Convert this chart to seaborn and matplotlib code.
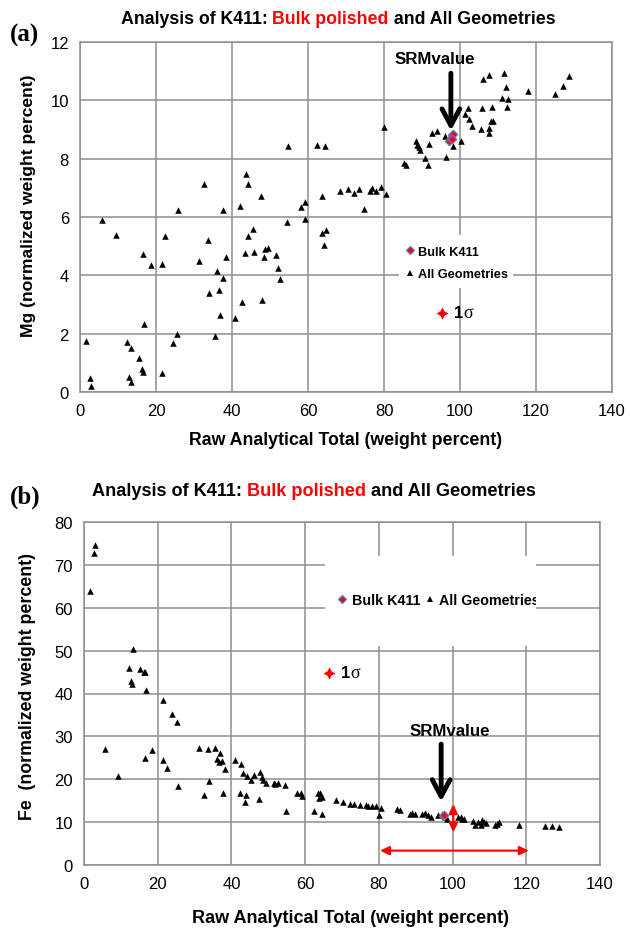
import numpy as np
import pandas as pd
import matplotlib
matplotlib.use("Agg")
import matplotlib.pyplot as plt
import seaborn as sns
from matplotlib.lines import Line2D
from matplotlib.patches import Rectangle
from matplotlib.transforms import Bbox, TransformedBbox

# ---------------- data ----------------
mg_x = [1.5, 2.7, 2.8, 5.7, 9.6, 12.3, 12.8, 13.3, 13.5, 15.5, 16.3, 16.5, 16.6, 16.9, 18.7,
        21.5, 21.7, 22.4, 24.4, 25.4, 25.8, 31.3, 32.7, 33.8, 33.9, 35.6, 36.1, 36.6, 36.9,
        37.6, 37.6, 38.4, 40.9, 42.1, 42.6, 43.3, 43.7, 44.1, 44.2, 45.4, 45.9, 47.5, 48.0,
        48.4, 48.7, 49.5, 51.5, 52.1, 52.7, 54.6, 54.8, 58.1, 59.1, 59.3, 62.3, 63.6, 63.6,
        64.3, 64.5, 64.7, 68.4, 70.4, 72.2, 73.3, 74.8, 76.3, 76.9, 78.0, 79.3, 80.1, 80.5,
        85.3, 85.9, 88.3, 88.8, 89.1, 89.4, 90.8, 91.6, 91.8, 92.5, 94.0, 96.0, 96.4, 98.1,
        100.3, 101.2, 102.0, 102.4, 103.2, 105.4, 105.9, 106.1, 107.6, 107.6, 107.6, 108.2,
        108.8, 108.5, 111.5, 111.1, 112.2, 112.6, 112.4, 118.0, 125.1, 127.0, 128.8]
mg_y = [1.74, 0.48, 0.21, 5.91, 5.37, 1.71, 0.53, 1.52, 0.35, 1.15, 0.78, 0.67, 4.73, 2.32, 4.35,
        0.65, 4.40, 5.36, 1.68, 1.98, 6.24, 4.50, 7.12, 5.22, 3.39, 1.93, 4.15, 3.49, 2.65,
        6.24, 3.91, 4.64, 2.55, 6.38, 3.09, 4.77, 7.46, 7.13, 5.35, 5.58, 4.81, 6.73, 3.17,
        4.64, 4.89, 4.95, 4.70, 4.26, 3.86, 5.82, 8.43, 6.33, 5.94, 6.51, 8.46, 6.72, 5.44,
        5.04, 8.43, 5.57, 6.90, 6.95, 6.81, 6.97, 6.26, 6.88, 6.99, 6.88, 7.03, 9.07, 6.79,
        7.86, 7.79, 8.61, 8.48, 8.40, 8.29, 8.02, 7.77, 8.49, 8.87, 8.95, 8.77, 8.05, 8.45,
        8.61, 9.54, 9.73, 9.37, 9.12, 9.03, 9.73, 10.72, 10.88, 8.89, 9.06, 9.28,
        9.28, 9.77, 10.95, 10.08, 10.45, 10.05, 9.76, 10.31, 10.22, 10.48, 10.83]
bulk_mg_x = [97.2, 97.6, 98.0, 98.2, 97.8]
bulk_mg_y = [8.62, 8.72, 8.80, 8.85, 8.68]

fe_x = [1.6, 2.7, 2.9, 5.6, 9.3, 12.2, 12.7, 13.1, 13.4, 15.3, 16.2, 16.6, 16.5, 16.9, 18.5,
        21.3, 21.5, 22.4, 23.9, 25.3, 25.6, 31.1, 32.6, 33.7, 33.8, 35.5, 36.0, 36.6, 36.8,
        37.5, 37.8, 38.3, 40.9, 42.2, 42.7, 43.1, 43.6, 44.0, 44.2, 45.4, 46.0, 47.4, 47.8,
        48.2, 48.7, 49.4, 51.5, 51.9, 52.5, 54.6, 54.9, 57.9, 59.0, 59.2, 62.3, 63.5, 63.7,
        64.1, 64.6, 64.6, 68.4, 70.3, 72.2, 73.2, 75.0, 76.5, 77.0, 78.2, 79.2, 80.0, 80.5,
        85.0, 85.8, 88.4, 89.1, 89.7, 91.8, 92.6, 93.4, 94.2, 96.1, 97.0, 98.3, 98.5, 101.4,
        102.2, 102.6, 103.1, 105.6, 106.1, 106.8, 107.7, 108.0, 108.6, 109.2, 111.4, 112.1,
        112.6, 118.1, 125.0, 127.0, 128.9]
fe_y = [63.9, 72.7, 74.6, 27.0, 20.7, 45.9, 42.8, 42.1, 50.4, 45.6, 45.1, 45.1, 24.9, 40.9, 26.8,
        38.5, 24.4, 22.7, 35.3, 33.3, 18.4, 27.3, 16.4, 27.0, 19.7, 27.4, 24.7, 24.0, 26.1,
        24.2, 16.8, 22.3, 24.4, 16.7, 23.6, 21.4, 14.7, 16.3, 20.8, 19.8, 20.9, 15.4, 21.8,
        20.6, 19.8, 19.1, 19.2, 18.8, 19.2, 18.7, 12.5, 16.7, 16.7, 16.0, 12.5, 16.9, 15.6,
        16.7, 15.8, 11.9, 15.2, 14.6, 14.2, 14.2, 14.1, 13.9, 13.8, 13.7, 13.7, 11.7, 13.4,
        13.1, 12.8, 11.9, 12.2, 11.9, 11.9, 12.1, 11.7, 11.3, 11.7, 11.9, 11.1, 10.7, 11.3,
        11.3, 10.7, 10.8, 10.3, 9.3, 10.1, 9.4, 10.4, 10.0, 9.9, 9.3, 9.5,
        10.0, 9.3, 9.0, 9.0, 8.9]
bulk_fe_x = [97.3, 97.8]
bulk_fe_y = [11.4, 11.6]

x_ticks = [0, 20, 40, 60, 80, 100, 120, 140]
mg_ticks = [0, 2, 4, 6, 8, 10, 12]
fe_ticks = [0, 10, 20, 30, 40, 50, 60, 70, 80]

sigma_a = (95.3, 2.70)
sigma_b = (66.5, 44.8)
srm_a = 97.6
srm_b = 96.9

title_pieces = [("Analysis of K411: ", "black"), ("Bulk polished", "#ff0000"),
                (" and All Geometries", "black")]
xlabel = "Raw Analytical Total (weight percent)"
ylabel_a = "Mg (normalized weight percent)"
ylabel_b = "Fe  (normalized weight percent)"
legend_labels = ["Bulk K411", "All Geometries"]

# ---------------- style ----------------
sns.set_style("white")
plt.rcParams["font.family"] = ["Liberation Sans", "DejaVu Sans"]
plt.rcParams["text.color"] = "black"
plt.rcParams["axes.labelcolor"] = "black"
GRID = "#8e8e8e"
W, H = 630, 929

fig = plt.figure(figsize=(W / 100, H / 100), dpi=100)


def px_axes(l, r, t, b):
    return fig.add_axes([l / W, 1 - b / H, (r - l) / W, (b - t) / H])


ax1 = px_axes(80, 612, 43, 393)
ax2 = px_axes(84, 600, 523, 866)

df_a = pd.DataFrame({"x": mg_x, "y": mg_y})
df_b = pd.DataFrame({"x": fe_x, "y": fe_y})

for ax, df, bx, by, yt in [(ax1, df_a, bulk_mg_x, bulk_mg_y, mg_ticks),
                           (ax2, df_b, bulk_fe_x, bulk_fe_y, fe_ticks)]:
    sns.scatterplot(data=df, x="x", y="y", marker="^", color="black", s=22,
                    linewidth=0, ax=ax, zorder=3, legend=False)
    sns.scatterplot(x=bx, y=by, marker="D", color="red", edgecolor="#4f81bd",
                    linewidth=0.9, s=18, ax=ax, zorder=4, legend=False)
    ax.set_xlim(x_ticks[0], x_ticks[-1])
    ax.set_ylim(yt[0], yt[-1])
    ax.set_xticks(x_ticks)
    ax.set_yticks(yt)
    ax.set_axisbelow(True)
    ax.grid(True, color=GRID, lw=1.1)
    for sp in ax.spines.values():
        sp.set_visible(True)
        sp.set_color(GRID)
        sp.set_linewidth(1.1)
    ax.tick_params(axis="both", length=3, width=1, color=GRID, pad=5,
                   labelsize=12, labelcolor="black")
    ax.set_xlabel("")
    ax.set_ylabel("")

# axis labels
ax1.set_xlabel(xlabel, fontsize=12.8, fontweight="bold", color="black")
ax1.xaxis.set_label_coords(0.5, -(432 - 393) / 350)
ax1.set_ylabel(ylabel_a, fontsize=12.6, fontweight="bold", color="black")
ax1.yaxis.set_label_coords((36 - 80) / 532, (393 - 206) / 350)

ax2.set_xlabel(xlabel, fontsize=13, fontweight="bold", color="black")
ax2.xaxis.set_label_coords((350 - 84) / 516, -(910 - 866) / 343)
ax2.set_ylabel(ylabel_b, fontsize=12.8, fontweight="bold", color="black")
ax2.yaxis.set_label_coords((36 - 84) / 516, (866 - 687) / 343)

# white legend backgrounds hiding gridlines
rect_a = Rectangle((84, 3.56), 30, 1.82, facecolor="white", edgecolor="none", zorder=1)
ax1.add_patch(rect_a)
rect_b_coords = (65.4, 51.1, 57.2, 21.0)
rect_b = Rectangle(rect_b_coords[:2], rect_b_coords[2], rect_b_coords[3],
                   facecolor="white", edgecolor="none", zorder=1)
ax2.add_patch(rect_b)

# legends
h_bulk = Line2D([], [], marker="D", color="none", markerfacecolor="red",
                markeredgecolor="#4f81bd", markersize=4, markeredgewidth=0.9)
h_all = Line2D([], [], marker="^", color="none", markerfacecolor="black",
               markeredgecolor="black", markersize=4.2, markeredgewidth=0)

leg_a = ax1.legend([h_bulk, h_all], legend_labels, loc="center left",
                   bbox_to_anchor=(405 / W, 1 - 264 / H), bbox_transform=fig.transFigure,
                   frameon=False, borderpad=0, borderaxespad=0, handlelength=0.8,
                   handletextpad=0.25, labelspacing=0.85,
                   prop={"weight": "bold", "size": 9.2})

leg_b = ax2.legend([h_bulk, h_all], legend_labels, loc="center left", ncol=2,
                   bbox_to_anchor=(336.5 / W, 1 - 601 / H), bbox_transform=fig.transFigure,
                   frameon=False, borderpad=0, borderaxespad=0, handlelength=0.8,
                   handletextpad=0.25, columnspacing=0.3,
                   prop={"weight": "bold", "size": 10.3})
for leg in (leg_a, leg_b):
    for t in leg.get_texts():
        t.set_color("black")
clipbox = TransformedBbox(Bbox([[rect_b_coords[0], rect_b_coords[1]],
                                [rect_b_coords[0] + rect_b_coords[2],
                                 rect_b_coords[1] + rect_b_coords[3]]]), ax2.transData)
for t in leg_b.get_texts():
    t.set_clip_box(clipbox)
    t.set_clip_on(True)

# 1 sigma markers
for ax, (sx, sy) in [(ax1, sigma_a), (ax2, sigma_b)]:
    ax.scatter([sx], [sy], marker=(4, 1, 0), s=75, color="#ff0000", linewidth=0, zorder=5)
    ax.annotate("1", xy=(sx, sy), xytext=(8.5, 0.5), textcoords="offset points",
                fontsize=12, fontweight="bold", va="center", ha="left", color="black")
    ax.annotate("σ", xy=(sx, sy), xytext=(15.0, 0.5), textcoords="offset points",
                fontsize=13, family=["Liberation Serif", "DejaVu Serif"],
                va="center", ha="left", color="black")

# SRM value arrows
ax1.text(93.3, 11.42, "SRMvalue", fontsize=12.2, fontweight="bold", ha="center",
         va="center", color="black")
ax1.annotate("", xy=(srm_a, 8.96), xytext=(srm_a, 10.93),
             arrowprops=dict(arrowstyle="->,head_length=0.6,head_width=0.32", lw=3.5,
                             color="black", mutation_scale=20, shrinkA=0, shrinkB=0),
             zorder=6)

ax2.text(99.2, 31.3, "SRMvalue", fontsize=12.2, fontweight="bold", ha="center",
         va="center", color="black")
ax2.annotate("", xy=(srm_b, 14.8), xytext=(srm_b, 28.2),
             arrowprops=dict(arrowstyle="->,head_length=0.6,head_width=0.32", lw=3.5,
                             color="black", mutation_scale=20, shrinkA=0, shrinkB=0),
             zorder=6)
# red error arrows
red_arrow = dict(arrowstyle="<|-|>,head_length=0.55,head_width=0.26", lw=1.5,
                 color="#ff0000", mutation_scale=10, shrinkA=0, shrinkB=0)
ax2.annotate("", xy=(100.2, 7.6), xytext=(100.2, 14.2), arrowprops=red_arrow, zorder=6)
ax2.annotate("", xy=(120.7, 3.35), xytext=(80.3, 3.35), arrowprops=red_arrow, zorder=6)

# multi-colour titles
renderer = fig.canvas.get_renderer()


def text_width(s, size):
    t1 = fig.text(0, 0, s + "x", fontsize=size, fontweight="bold")
    t2 = fig.text(0, 0, "x", fontsize=size, fontweight="bold")
    w = t1.get_window_extent(renderer).width - t2.get_window_extent(renderer).width
    t1.remove()
    t2.remove()
    return w


def multicolor_title(cx, cy, size):
    full = "".join(p for p, _ in title_pieces)
    total = text_width(full, size)
    x0 = cx - total / 2
    prefix = ""
    for s, c in title_pieces:
        off = text_width(prefix, size) if prefix else 0.0
        fig.text((x0 + off) / W, 1 - cy / H, s, fontsize=size, fontweight="bold",
                 color=c, ha="left", va="center")
        prefix += s


multicolor_title(338, 20, 12.8)
multicolor_title(314, 492, 13.1)

# panel letters
fig.text(24 / W, 1 - 35 / H, "(a)", fontsize=18, fontweight="bold", color="black",
         family=["Liberation Serif", "DejaVu Serif"], ha="center", va="center")
fig.text(25 / W, 1 - 497 / H, "(b)", fontsize=18, fontweight="bold", color="black",
         family=["Liberation Serif", "DejaVu Serif"], ha="center", va="center")

fig.savefig("out.png", dpi=100)
